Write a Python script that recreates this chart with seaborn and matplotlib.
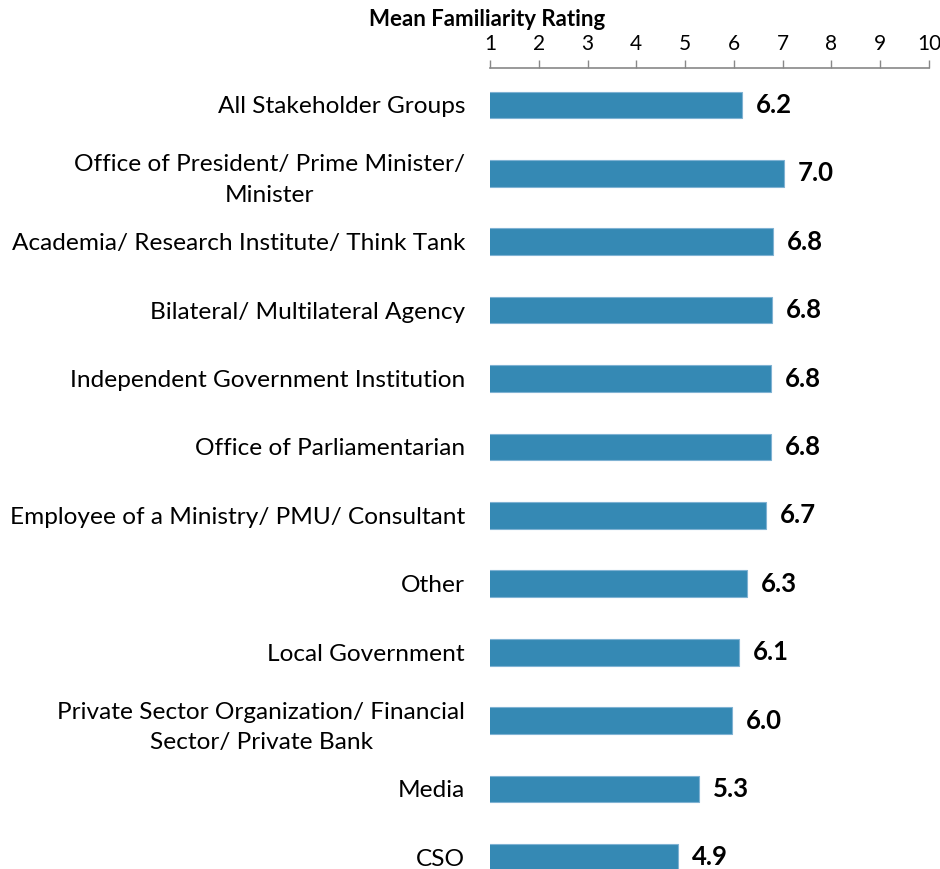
import matplotlib
matplotlib.use("Agg")
import matplotlib.pyplot as plt
import seaborn as sns
import pandas as pd

categories = [
    "All Stakeholder Groups",
    "Office of President/ Prime Minister/\nMinister",
    "Academia/ Research Institute/ Think Tank",
    "Bilateral/ Multilateral Agency",
    "Independent Government Institution",
    "Office of Parliamentarian",
    "Employee of a Ministry/ PMU/ Consultant",
    "Other",
    "Local Government",
    "Private Sector Organization/ Financial\nSector/ Private Bank",
    "Media",
    "CSO",
]
values = [6.16, 7.02, 6.80, 6.79, 6.77, 6.76, 6.66, 6.27, 6.11, 5.97, 5.28, 4.86]
x_ticks = [1, 2, 3, 4, 5, 6, 7, 8, 9, 10]
axis_title = "Mean Familiarity Rating"

sns.set_theme(style="white")
plt.rcParams["font.family"] = ["Lato", "DejaVu Sans"]

df = pd.DataFrame({"group": categories, "rating": values})

fig = plt.figure(figsize=(9.4, 8.69), dpi=100)
ax = fig.add_axes([490 / 940, 0, 439 / 940, 801 / 869])

sns.barplot(data=df, y="group", x="rating", orient="h", color="#3589B4",
            saturation=1, width=0.39, edgecolor="#7fb2d3", linewidth=0.8, ax=ax)

ax.set_xlim(1, 10)
ax.set_ylim(11.17, -0.54)
ax.set_xticks(x_ticks)
ax.xaxis.tick_top()
ax.tick_params(axis="x", which="both", top=True, bottom=False, direction="out",
               length=6, width=1, color="#888888", labelsize=15, pad=4,
               labelcolor="black")
ax.tick_params(axis="y", length=0, labelsize=17.6, pad=18, labelcolor="black")
for lbl in ax.get_yticklabels():
    lbl.set_multialignment("center")
    lbl.set_linespacing(1.55)

for side in ["bottom", "left", "right"]:
    ax.spines[side].set_visible(False)
ax.spines["top"].set_color("#888888")
ax.spines["top"].set_linewidth(1.2)

ax.set_xlabel("")
ax.set_ylabel("")

for c in ax.containers:
    ax.bar_label(c, labels=[f"{v:.1f}" for v in values], padding=10,
                 fontsize=18.5, fontweight="bold", color="black")

fig.text(487 / 940, 1 - 19 / 869, axis_title, ha="center", va="center",
         fontsize=16, fontweight="bold", color="black")

fig.savefig("out.png", dpi=100)
